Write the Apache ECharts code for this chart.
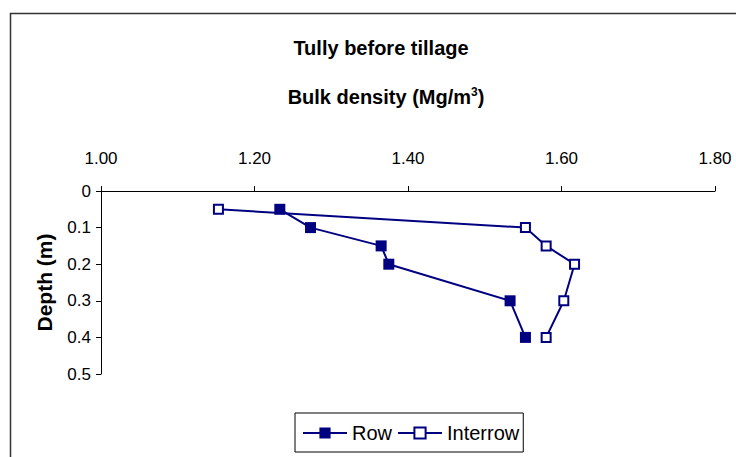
<!DOCTYPE html>
<html>
<head>
<meta charset="utf-8">
<script src="https://cdn.jsdelivr.net/npm/echarts@6/dist/echarts.min.js"></script>
<style>
html,body{margin:0;padding:0;background:#fff;}
#chart{width:736px;height:457px;}
</style>
</head>
<body>
<div id="chart"></div>
<script>
// Data
var depths = [0.05, 0.1, 0.15, 0.2, 0.3, 0.4];
var rowDensity = [1.233, 1.273, 1.365, 1.375, 1.533, 1.553];
var interrowDepths = [0.05, 0.1, 0.15, 0.2, 0.3, 0.4];
var interrowDensity = [1.153, 1.553, 1.58, 1.617, 1.603, 1.58];
var seriesNames = ['Row', 'Interrow'];
var titleText = 'Tully before tillage';
var xAxisTitle = 'Bulk density (Mg/m';
var yAxisTitle = 'Depth (m)';

var FONT = '"Liberation Sans", Arial, sans-serif';
var NAVY = '#000080';

function pairs(xs, ys) {
  return xs.map(function (x, i) { return [x, ys[i]]; });
}

var chart = echarts.init(document.getElementById('chart'), null, {renderer: 'svg'});
chart.setOption({
  backgroundColor: '#fff',
  animation: false,
  textStyle: {fontFamily: FONT},
  graphic: [
    {type: 'rect', silent: true, z: -10,
     shape: {x: 10.5, y: 13.5, width: 800, height: 500},
     style: {fill: 'none', stroke: '#333', lineWidth: 1.5}},
    {type: 'text', x: 381, y: 48,
     style: {text: titleText, fontFamily: FONT, fontSize: 20, fontWeight: 'bold',
             fill: '#000', align: 'center', verticalAlign: 'middle'}},
    {type: 'text', x: 386, y: 96,
     style: {text: '{a|' + xAxisTitle + '}{s|3}{a|)}', align: 'center', verticalAlign: 'middle',
             rich: {
               a: {fontFamily: FONT, fontSize: 20, fontWeight: 'bold', fill: '#000', color: '#000', verticalAlign: 'bottom'},
               s: {fontFamily: FONT, fontSize: 12, fontWeight: 'bold', fill: '#000', color: '#000',
                   verticalAlign: 'bottom', padding: [0, 0, 9, 0]}
             }}}
  ],
  grid: {left: 101, right: 21, top: 191, bottom: 83, containLabel: false},
  xAxis: {
    type: 'value', position: 'top', min: 1, max: 1.8, interval: 0.2,
    axisLine: {show: true, lineStyle: {color: '#000', width: 1}},
    axisTick: {show: true, inside: false, length: 5, lineStyle: {color: '#000'}},
    splitLine: {show: false},
    axisLabel: {color: '#000', fontSize: 17, fontFamily: FONT, margin: 24,
                formatter: function (v) { return v.toFixed(2); }}
  },
  yAxis: {
    type: 'value', inverse: true, min: 0, max: 0.5, interval: 0.1,
    name: yAxisTitle, nameLocation: 'middle', nameRotate: 90, nameGap: 46,
    nameTextStyle: {color: '#000', fontSize: 21, fontWeight: 'bold', fontFamily: FONT},
    axisLine: {show: true, onZero: false, lineStyle: {color: '#000', width: 1}},
    axisTick: {show: true, inside: false, length: 5, lineStyle: {color: '#000'}},
    splitLine: {show: false},
    axisLabel: {color: '#000', fontSize: 17, fontFamily: FONT, margin: 10,
                formatter: function (v) { return v === 0 ? '0' : v.toFixed(1); }}
  },
  legend: {
    data: seriesNames,
    left: 295, top: 413,
    orient: 'horizontal',
    itemWidth: 44, itemHeight: 14, itemGap: 5,
    padding: [10, 4, 9, 7],
    borderColor: '#000', borderWidth: 1,
    textStyle: {color: '#000', fontSize: 20, fontFamily: FONT}
  },
  series: [
    {
      name: seriesNames[0], type: 'line',
      data: pairs(rowDensity, depths),
      symbol: 'rect', symbolSize: 11,
      lineStyle: {color: NAVY, width: 2},
      itemStyle: {color: NAVY, borderColor: NAVY, borderWidth: 0}
    },
    {
      name: seriesNames[1], type: 'line',
      data: pairs(interrowDensity, interrowDepths),
      symbol: 'rect', symbolSize: 9,
      lineStyle: {color: NAVY, width: 2},
      itemStyle: {color: '#fff', borderColor: NAVY, borderWidth: 2}
    }
  ]
});
</script>
</body>
</html>
